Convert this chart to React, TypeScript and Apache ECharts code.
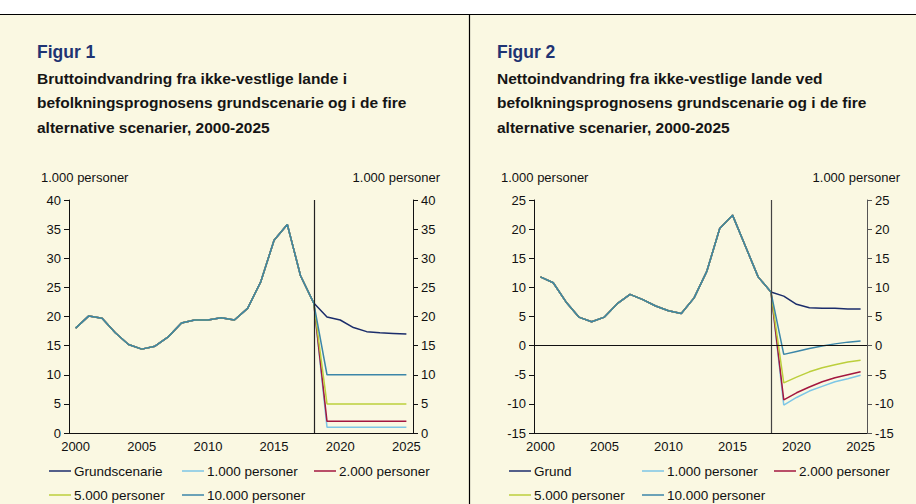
import React, { useEffect, useRef } from "react";
import * as echarts from "echarts";

const years = Array.from({ length: 26 }, (_, i) => String(2000 + i));

// Figur 1: gross immigration (1.000 persons)
const hist1 = [18.0, 20.1, 19.7, 17.2, 15.2, 14.4, 14.9, 16.5, 18.9, 19.4, 19.4, 19.8, 19.4, 21.4, 26.0, 33.1, 35.8, 27.0, 22.3];
const grund1 = [19.9, 19.4, 18.1, 17.4, 17.2, 17.1, 17.0];
const f1p1 = [1.0, 1.0, 1.0, 1.0, 1.0, 1.0, 1.0];
const f1p2 = [2.0, 2.0, 2.0, 2.0, 2.0, 2.0, 2.0];
const f1p5 = [5.0, 5.0, 5.0, 5.0, 5.0, 5.0, 5.0];
const f1p10 = [10.0, 10.0, 10.0, 10.0, 10.0, 10.0, 10.0];

// Figur 2: net immigration (1.000 persons)
const hist2 = [11.8, 10.8, 7.5, 4.9, 4.1, 4.9, 7.2, 8.8, 7.9, 6.8, 6.0, 5.5, 8.2, 12.8, 20.1, 22.4, 17.1, 11.8, 9.2];
const grund2 = [8.5, 7.1, 6.5, 6.4, 6.4, 6.3, 6.3];
const f2p1 = [-10.2, -8.9, -7.8, -7.0, -6.2, -5.7, -5.1];
const f2p2 = [-9.3, -8.1, -7.1, -6.2, -5.5, -5.0, -4.5];
const f2p5 = [-6.4, -5.4, -4.5, -3.8, -3.3, -2.8, -2.5];
const f2p10 = [-1.5, -1.0, -0.5, -0.05, 0.3, 0.6, 0.8];

const names1 = ["Grundscenarie", "1.000 personer", "2.000 personer", "5.000 personer", "10.000 personer"];
const names2 = ["Grund", "1.000 personer", "2.000 personer", "5.000 personer", "10.000 personer"];
const colors = ["#1B2D6B", "#7CC6E6", "#A3173F", "#BCCF3C", "#3B86A8"];

const FONT = "'Liberation Sans', Arial, sans-serif";
const BG = "#FAF8E2";

export default function App() {
  const ref = useRef<HTMLDivElement>(null);
  useEffect(() => {
    document.body.style.margin = "0";
    if (!ref.current) return;
    const chart = echarts.init(ref.current, null, { renderer: "svg" });

    const grids = [
      { left: 69, top: 200, width: 344, height: 233 },
      { left: 534, top: 200, width: 333, height: 233 },
    ];

    const mkX = (gi: number) => ({
      type: "category",
      gridIndex: gi,
      data: years,
      boundaryGap: true,
      axisLine: { onZero: false, lineStyle: { color: "#111", width: 1 } },
      axisTick: { interval: 4, length: 5, lineStyle: { color: "#111" } },
      axisLabel: { interval: 4, fontSize: 13, color: "#111", fontFamily: FONT, margin: 7 },
      splitLine: { show: false },
    });
    const mkY = (gi: number, pos: string, min: number, max: number, col: string) => ({
      type: "value",
      gridIndex: gi,
      position: pos,
      min,
      max,
      interval: 5,
      axisLine: { show: true, onZero: false, lineStyle: { color: col, width: 1 } },
      axisTick: { show: true, length: 5, lineStyle: { color: col } },
      axisLabel: { fontSize: 13, color: "#111", fontFamily: FONT, margin: 8 },
      splitLine: { show: false },
    });

    const fut1 = [grund1, f1p1, f1p2, f1p5, f1p10];
    const fut2 = [grund2, f2p1, f2p2, f2p5, f2p10];

    const series: any[] = [];
    fut1.forEach((f, i) => {
      series.push({
        type: "line",
        name: names1[i],
        xAxisIndex: 0,
        yAxisIndex: 0,
        data: [...hist1, ...f],
        symbol: "none",
        lineStyle: { color: colors[i], width: 1.5 },
        itemStyle: { color: colors[i] },
        markLine:
          i === 0
            ? {
                silent: true,
                symbol: "none",
                label: { show: false },
                lineStyle: { color: "#222", width: 1.2, type: "solid" },
                data: [{ xAxis: "2018" }],
              }
            : undefined,
      });
    });
    fut2.forEach((f, i) => {
      series.push({
        type: "line",
        name: names2[i],
        xAxisIndex: 1,
        yAxisIndex: 2,
        data: [...hist2, ...f],
        symbol: "none",
        lineStyle: { color: colors[i], width: 1.5 },
        itemStyle: { color: colors[i] },
        markLine:
          i === 0
            ? {
                silent: true,
                symbol: "none",
                label: { show: false },
                lineStyle: { color: "#444", width: 1.2, type: "solid" },
                data: [{ xAxis: "2018" }, { yAxis: 0, lineStyle: { color: "#111", width: 1.2 } }],
              }
            : undefined,
      });
    });

    const legendPos1 = [
      [49, 464],
      [182, 464],
      [314, 464],
      [49, 488],
      [182, 488],
    ];
    const legendPos2 = [
      [509, 464],
      [642, 464],
      [774, 464],
      [509, 488],
      [642, 488],
    ];
    const mkLegend = (name: string, pos: number[]) => ({
      data: [name],
      left: pos[0],
      top: pos[1],
      padding: 0,
      icon: "rect",
      itemWidth: 22,
      itemHeight: 1.5,
      selectedMode: false,
      textStyle: { fontSize: 13.5, color: "#111", fontFamily: FONT, padding: [0, 0, 0, -2] },
    });
    const legends = [
      ...names1.map((n, i) => mkLegend(n, legendPos1[i])),
      ...names2.map((n, i) => mkLegend(n, legendPos2[i])),
    ];

    const txt = (text: string, x: number, y: number, size: number, weight: string, fill: string, align = "left") => ({
      type: "text",
      x,
      y,
      silent: true,
      style: { text, font: `${weight} ${size}px ${FONT}`, fill, align, verticalAlign: "middle" },
    });

    const sub1 = ["Bruttoindvandring fra ikke-vestlige lande i", "befolkningsprognosens grundscenarie og i de fire", "alternative scenarier, 2000-2025"];
    const sub2 = ["Nettoindvandring fra ikke-vestlige lande ved", "befolkningsprognosens grundscenarie og i de fire", "alternative scenarier, 2000-2025"];
    const lineY = [78, 102.5, 127];

    const graphic: any[] = [
      { type: "rect", shape: { x: 0, y: 0, width: 916, height: 14 }, style: { fill: "#ffffff" }, silent: true },
      { type: "line", shape: { x1: 0, y1: 14.5, x2: 916, y2: 14.5 }, style: { stroke: "#000", lineWidth: 1.2 }, silent: true },
      { type: "line", shape: { x1: 469.5, y1: 14, x2: 469.5, y2: 504 }, style: { stroke: "#000", lineWidth: 1.2 }, silent: true },
      txt("Figur 1", 37, 51.5, 17.5, "bold", "#1F3473"),
      txt("Figur 2", 497, 51.5, 17.5, "bold", "#1F3473"),
      ...sub1.map((s, i) => txt(s, 37, lineY[i], 15.5, "bold", "#151515")),
      ...sub2.map((s, i) => txt(s, 497, lineY[i], 15.5, "bold", "#151515")),
      txt("1.000 personer", 41, 177, 13, "normal", "#111"),
      txt("1.000 personer", 440, 177, 13, "normal", "#111", "right"),
      txt("1.000 personer", 501, 177, 13, "normal", "#111"),
      txt("1.000 personer", 900, 177, 13, "normal", "#111", "right"),
    ];

    chart.setOption({
      animation: false,
      backgroundColor: BG,
      grid: grids,
      xAxis: [mkX(0), mkX(1)],
      yAxis: [
        mkY(0, "left", 0, 40, "#111"),
        mkY(0, "right", 0, 40, "#111"),
        mkY(1, "left", -15, 25, "#111"),
        mkY(1, "right", -15, 25, "#555"),
      ],
      legend: legends,
      series,
      graphic,
    });
    return () => chart.dispose();
  }, []);
  return <div ref={ref} style={{ width: 916, height: 504 }} />;
}
